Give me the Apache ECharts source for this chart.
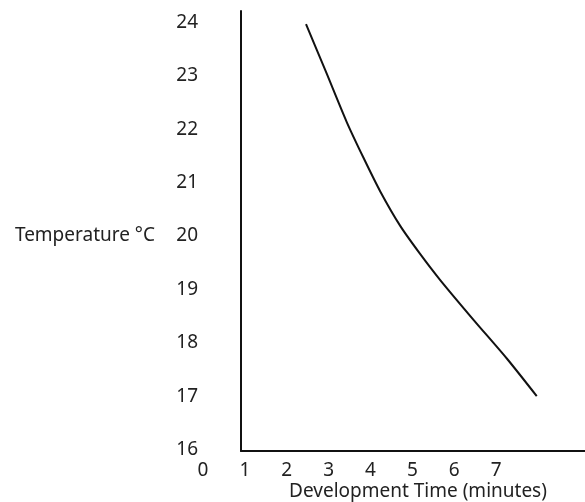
<!DOCTYPE html>
<html>
<head>
<meta charset="utf-8">
<script src="https://cdn.jsdelivr.net/npm/echarts@6/dist/echarts.min.js"></script>
<style>
html,body{margin:0;padding:0;background:#fff;}
#chart{width:585px;height:502px;}
</style>
</head>
<body>
<div id="chart"></div>
<script>
// Data
var timeMinutes = [2.46, 2.94, 3.43, 3.83, 4.23, 4.71, 5.18, 5.66, 6.46, 7.26, 7.97];
var temperatureC = [23.97, 23.07, 22.14, 21.47, 20.84, 20.19, 19.67, 19.18, 18.43, 17.70, 17.0];
var xTickMax = 7;          // last x tick label shown
var yTicks = [16, 24];     // y range of labels
var xTitle = 'Development Time (minutes)';
var yTitle = 'Temperature °C';

var FONT = 'Noto Sans';
var FS = 19;
var chart = echarts.init(document.getElementById('chart'), null, {renderer: 'canvas'});
var points = timeMinutes.map(function (t, i) { return [t, temperatureC[i]]; });

chart.setOption({
  animation: false,
  backgroundColor: '#ffffff',
  grid: [
    {left: 203, right: 47, top: 22.5, bottom: 52.5, containLabel: false, outerBoundsMode: 'none'},
    {left: 241, right: -5, top: 11, bottom: 51, containLabel: false, outerBoundsMode: 'none'}
  ],
  xAxis: [
    {
      gridIndex: 0, type: 'value', min: 0, max: 8, interval: 1,
      axisLine: {show: false}, axisTick: {show: false}, splitLine: {show: false},
      axisLabel: {
        margin: 12, color: '#222', fontFamily: FONT, fontSize: FS,
        formatter: function (v) { return v <= xTickMax ? String(v) : ''; }
      },
      name: xTitle, nameLocation: 'middle', nameGap: 33, nameMoveOverlap: false,
      nameTextStyle: {color: '#222', fontFamily: FONT, fontSize: FS, padding: [0, 0, 0, 95]}
    },
    {
      gridIndex: 1, type: 'value', min: 0, max: 1,
      axisLine: {show: true, onZero: false, lineStyle: {color: '#111', width: 2}},
      axisTick: {show: false}, axisLabel: {show: false}, splitLine: {show: false}
    }
  ],
  yAxis: [
    {
      gridIndex: 0, type: 'value', min: yTicks[0], max: yTicks[1], interval: 1,
      axisLine: {show: false}, axisTick: {show: false}, splitLine: {show: false},
      axisLabel: {margin: 5, color: '#222', fontFamily: FONT, fontSize: FS},
      name: yTitle, nameLocation: 'middle', nameGap: 48, nameRotate: 0, nameMoveOverlap: false,
      nameTextStyle: {color: '#222', fontFamily: FONT, fontSize: FS, align: 'right'}
    },
    {
      gridIndex: 1, type: 'value', min: 0, max: 1,
      axisLine: {show: true, onZero: false, lineStyle: {color: '#111', width: 2}},
      axisTick: {show: false}, axisLabel: {show: false}, splitLine: {show: false}
    }
  ],
  series: [
    {
      type: 'line', xAxisIndex: 0, yAxisIndex: 0,
      data: points, smooth: 0.25, showSymbol: false, clip: false,
      lineStyle: {color: '#111', width: 2}
    }
  ]
});
</script>
</body>
</html>
